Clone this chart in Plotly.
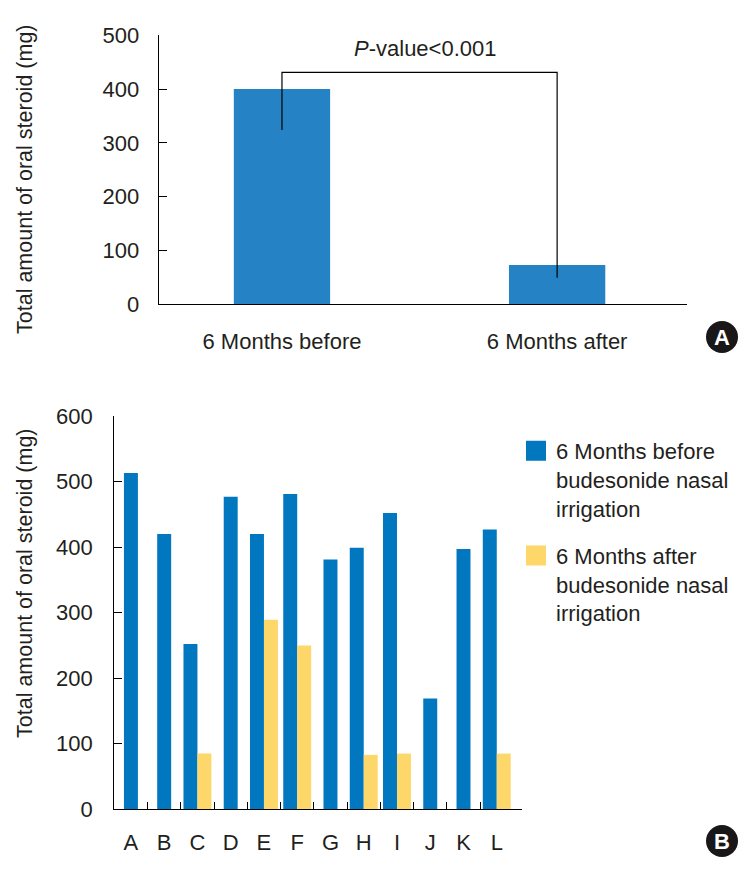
import plotly.graph_objects as go

# ---------------- data ----------------
top_categories = ["6 Months before", "6 Months after"]
top_values = [400, 73]

patients = ["A", "B", "C", "D", "E", "F", "G", "H", "I", "J", "K", "L"]
before_values = [513, 420, 252, 477, 420, 481, 381, 399, 452, 169, 397, 427]
after_values = [None, None, 85, None, 289, 250, None, 83, 85, None, None, 85]

top_yticks = [0, 100, 200, 300, 400, 500]
bottom_yticks = [0, 100, 200, 300, 400, 500, 600]

legend_before = "6 Months before<br>budesonide nasal<br>irrigation"
legend_after = "6 Months after<br>budesonide nasal<br>irrigation"
y_title = "Total amount of oral steroid (mg)"
p_text = "<i>P</i>-value&lt;0.001"

# ---------------- styles ----------------
W, H = 751, 873
OFF = 8  # page body margin
FONT = "Liberation Sans, Arial, Helvetica, sans-serif"
TXT = "#231F20"
TOP_BLUE = "#2582C4"
BLUE = "#0077BF"
YELLOW = "#FED76B"

def px_x(p):
    return (p - OFF) / W

def px_y(p):
    return (H - (p - OFF)) / H

fig = go.Figure()

# top chart bars
fig.add_trace(go.Bar(
    x=list(range(len(top_categories))), y=top_values, width=0.35,
    marker=dict(color=TOP_BLUE, line=dict(width=0)),
    xaxis="x", yaxis="y", showlegend=False,
))

# bottom chart bars
bar_w = 0.42
idx = list(range(len(patients)))
before_offset = [(-bar_w if a is not None else -bar_w / 2) for a in after_values]
fig.add_trace(go.Bar(
    x=idx, y=before_values, width=bar_w, offset=before_offset,
    marker=dict(color=BLUE, line=dict(width=0)),
    xaxis="x2", yaxis="y2", showlegend=False,
))
after_idx = [i for i, a in enumerate(after_values) if a is not None]
fig.add_trace(go.Bar(
    x=after_idx, y=[after_values[i] for i in after_idx], width=bar_w, offset=0,
    marker=dict(color=YELLOW, line=dict(width=0)),
    xaxis="x2", yaxis="y2", showlegend=False,
))

# legend entries (square swatches)
for name, col, grp in [(legend_before, BLUE, "g1"), (legend_after, YELLOW, "g2")]:
    fig.add_trace(go.Scatter(
        x=[None], y=[None], mode="markers", name=name, legendgroup=grp,
        marker=dict(symbol="square", size=16, color=col, line=dict(color=col, width=4)),
        xaxis="x2", yaxis="y2", showlegend=True,
    ))

axis_common = dict(
    showline=True, linecolor="#000000", linewidth=1.3, showgrid=False, zeroline=False,
    automargin=False, tickfont=dict(family=FONT, size=22, color=TXT),
)

fig.update_layout(
    template="none",
    width=W, height=H, margin=dict(l=0, r=0, t=0, b=0, pad=0), autosize=False,
    paper_bgcolor="white", plot_bgcolor="white",
    barmode="overlay",
    font=dict(family=FONT, color=TXT),
    xaxis=dict(
        **axis_common, domain=[px_x(158.7), px_x(687)], anchor="y",
        tickmode="array", tickvals=list(range(len(top_categories))), ticktext=top_categories,
        range=[-0.448, 1.472], ticks="", ticklabelstandoff=17,
    ),
    yaxis=dict(
        **axis_common, domain=[px_y(304.3), px_y(35.3)], anchor="x",
        range=[0, 500], tickmode="array", tickvals=top_yticks,
        ticks="inside", ticklen=8, tickcolor="#000000", tickwidth=1.3,
        ticklabelstandoff=14,
    ),
    xaxis2=dict(
        **axis_common, domain=[px_x(114.3), px_x(521.7)], anchor="y2",
        tickmode="array", tickvals=idx, ticktext=patients,
        range=[-0.5, 11.75], ticks="", ticklabelstandoff=13,
        minor=dict(tickmode="array", tickvals=[i + 0.5 for i in idx[:-1]],
                   ticks="inside", ticklen=7, tickcolor="#000000", tickwidth=1.3, showgrid=False),
    ),
    yaxis2=dict(
        **axis_common, domain=[px_y(809.3), px_y(416)], anchor="x2",
        range=[0, 600], tickmode="array", tickvals=bottom_yticks,
        ticks="inside", ticklen=8, tickcolor="#000000", tickwidth=1.3,
        ticklabelstandoff=16,
    ),
    legend=dict(
        x=px_x(516), y=px_y(430), xanchor="left", yanchor="top",
        font=dict(family=FONT, size=22, color=TXT), valign="top",
        tracegroupgap=16, bgcolor="rgba(0,0,0,0)", itemclick=False,
    ),
)

# significance bracket (top chart)
fig.add_shape(type="path", xref="x", yref="y",
              path="M 0,324 L 0,431 L 1,431 L 1,49.5",
              line=dict(color="#000000", width=1.2))
fig.add_annotation(x=0.52, y=476, xref="x", yref="y", text=p_text, showarrow=False,
                   font=dict(family=FONT, size=22, color=TXT), xanchor="center", yanchor="middle")

# axis titles
fig.add_annotation(x=px_x(25), y=px_y(179), xref="paper", yref="paper", text=y_title,
                   textangle=-90, showarrow=False, font=dict(family=FONT, size=21.5, color=TXT),
                   xanchor="center", yanchor="middle")
fig.add_annotation(x=px_x(25), y=px_y(583), xref="paper", yref="paper", text=y_title,
                   textangle=-90, showarrow=False, font=dict(family=FONT, size=21.5, color=TXT),
                   xanchor="center", yanchor="middle")

# panel labels
for letter, cy in [("A", 337), ("B", 841)]:
    fig.add_shape(type="circle", xref="paper", yref="paper",
                  xsizemode="pixel", ysizemode="pixel",
                  xanchor=px_x(722), yanchor=px_y(cy), x0=-16, x1=16, y0=-16, y1=16,
                  fillcolor="#1A1718", line=dict(color="#1A1718", width=0))
    fig.add_annotation(x=px_x(722), y=px_y(cy), xref="paper", yref="paper",
                       text="<b>%s</b>" % letter, showarrow=False,
                       font=dict(family=FONT, size=22, color="white"),
                       xanchor="center", yanchor="middle")

fig.write_html("out.html")
